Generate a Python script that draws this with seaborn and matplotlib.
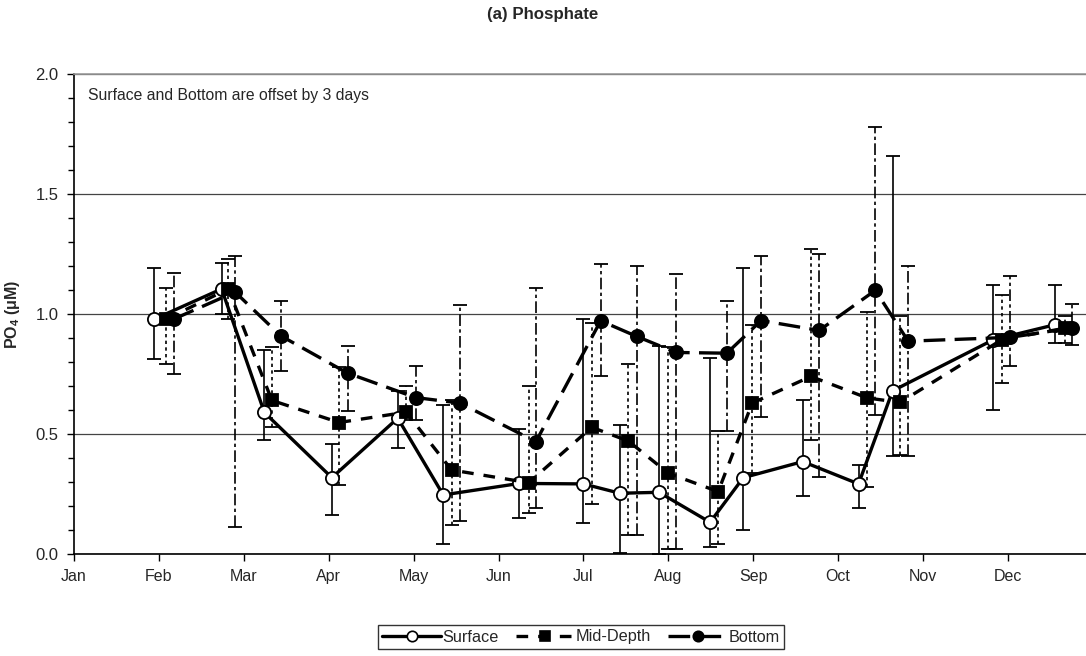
import numpy as np
import pandas as pd
import matplotlib
matplotlib.use("Agg")
import matplotlib.pyplot as plt
import seaborn as sns
from matplotlib.lines import Line2D

# ---------------- data ----------------
months = ["Jan", "Feb", "Mar", "Apr", "May", "Jun", "Jul", "Aug", "Sep", "Oct", "Nov", "Dec"]

# Surface (day of year, value, error-bar top, error-bar bottom)
surf_day = [28.8, 52.9, 68.2, 92.4, 116.0, 132.3, 159.6, 182.5, 195.6, 209.6, 227.9, 239.8, 261.1, 281.1, 293.3, 329.4, 351.6]
surf_val = [0.978, 1.104, 0.589, 0.317, 0.565, 0.245, 0.293, 0.291, 0.252, 0.256, 0.131, 0.317, 0.384, 0.291, 0.679, 0.892, 0.955]
surf_hi = [1.19, 1.21, 0.848, 0.458, 0.68, 0.618, 0.519, 0.98, 0.537, 0.867, 0.818, 1.191, 0.639, 0.37, 1.66, 1.119, 1.119]
surf_lo = [0.81, 1.00, 0.472, 0.16, 0.44, 0.04, 0.148, 0.13, 0.004, 0.0, 0.03, 0.10, 0.24, 0.19, 0.408, 0.60, 0.878]

# Mid-Depth
mid_day = [33.0, 55.3, 70.9, 95.0, 119.0, 135.3, 162.9, 185.5, 198.6, 213.0, 230.8, 243.0, 264.0, 284.3, 296.0, 332.4, 355.0]
mid_val = [0.978, 1.104, 0.639, 0.547, 0.59, 0.349, 0.296, 0.527, 0.47, 0.335, 0.259, 0.628, 0.739, 0.649, 0.631, 0.892, 0.94]
mid_hi = [1.108, 1.23, 0.861, 0.78, 0.70, 0.64, 0.70, 0.96, 0.792, 0.86, 0.513, 0.955, 1.272, 1.007, 0.99, 1.08, 0.99]
mid_lo = [0.79, 0.98, 0.53, 0.287, 0.558, 0.12, 0.17, 0.207, 0.078, 0.018, 0.04, 0.335, 0.475, 0.28, 0.41, 0.711, 0.878]

# Bottom
bot_day = [35.7, 57.7, 74.0, 98.0, 122.4, 138.3, 165.5, 188.7, 201.6, 215.7, 233.9, 246.2, 267.0, 287.1, 298.9, 335.4, 357.5]
bot_val = [0.978, 1.091, 0.909, 0.753, 0.651, 0.628, 0.467, 0.971, 0.906, 0.839, 0.836, 0.972, 0.931, 1.098, 0.886, 0.902, 0.941]
bot_hi = [1.17, 1.243, 1.055, 0.868, 0.784, 1.038, 1.108, 1.209, 1.198, 1.168, 1.052, 1.24, 1.25, 1.78, 1.198, 1.159, 1.04]
bot_lo = [0.749, 0.11, 0.76, 0.593, 0.558, 0.138, 0.192, 0.739, 0.08, 0.018, 0.51, 0.569, 0.32, 0.579, 0.408, 0.784, 0.872]

# ---------------- styling ----------------
sns.set_theme(style="ticks")
plt.rcParams["font.family"] = ["Liberation Sans", "DejaVu Sans"]
plt.rcParams["mathtext.fontset"] = "custom"
plt.rcParams["mathtext.rm"] = "Liberation Sans"
plt.rcParams["mathtext.bf"] = "Liberation Sans:bold"

fig = plt.figure(figsize=(10.86, 6.56), dpi=100)
ax = fig.add_axes([74 / 1086, 102.3 / 656, 1 - 74 / 1086, (553.7 - 74) / 656])

month_len = 30.42
xmax = (1086 - 74) / 2.791

series = [
    ("Surface", surf_day, surf_val, surf_hi, surf_lo, "o", "white", (None, None), "-", 1),
    ("Mid-Depth", mid_day, mid_val, mid_hi, mid_lo, "s", "black", (3.5, 3.0), (0, (2, 2)), 2),
    ("Bottom", bot_day, bot_val, bot_hi, bot_lo, "o", "black", (6.5, 2.8), (0, (7, 2, 2, 2)), 3),
]

handles = []
for name, d, v, hi, lo, mk, fc, dash, ebls, z in series:
    d = np.array(d); v = np.array(v); hi = np.array(hi); lo = np.array(lo)
    eb = ax.errorbar(d, v, yerr=[v - lo, hi - v], fmt="none", ecolor="black",
                     elinewidth=1.2, capsize=5, capthick=1.3, zorder=z)
    eb[2][0].set_linestyle(ebls)
    df = pd.DataFrame({"day": d, "val": v})
    sns.lineplot(data=df, x="day", y="val", ax=ax, color="black", lw=2.4,
                 marker=mk, markersize=9.5 if mk == "o" else 9, markerfacecolor=fc,
                 markeredgecolor="black", markeredgewidth=1.3, zorder=z + 3,
                 sort=False, estimator=None)
    line = ax.lines[-1]
    if dash[0] is not None:
        line.set_dashes(dash)
    h = Line2D([], [], color="black", lw=2.4, marker=mk, markersize=7.5,
               markerfacecolor=fc, markeredgecolor="black", markeredgewidth=1.2)
    if dash[0] is not None:
        h.set_dashes(dash)
    handles.append(h)

ax.set_xlim(0, xmax)
ax.set_ylim(0, 2.0)
ax.set_xticks([i * month_len for i in range(12)])
ax.set_xticklabels(months, fontsize=11.5)
ax.set_yticks([0, 0.5, 1.0, 1.5, 2.0])
ax.set_yticklabels(["0.0", "0.5", "1.0", "1.5", "2.0"], fontsize=12)
ax.set_yticks(np.arange(0, 2.01, 0.1), minor=True)
ax.tick_params(axis="both", which="major", direction="out", length=5, width=1.0, color="black", pad=6)
ax.tick_params(axis="y", which="minor", direction="out", length=4, width=1.0, color="black")
ax.yaxis.grid(True, which="major", color="#444444", lw=0.9)
ax.xaxis.grid(False)
ax.set_axisbelow(True)
for s in ["left", "bottom"]:
    ax.spines[s].set_color("black")
    ax.spines[s].set_linewidth(1.2)
ax.spines["top"].set_color("#999999")
ax.spines["top"].set_linewidth(1.2)
ax.spines["right"].set_visible(False)

ax.set_xlabel("")
ax.set_ylabel(r"PO$_\mathbf{4}$ ($\mathbf{\mu}$M)", fontsize=11.5, fontweight="bold", labelpad=10)
ax.text(14.3 / (1086 - 74), 0.955, "Surface and Bottom are offset by 3 days",
        transform=ax.transAxes, fontsize=11.3, ha="left", va="center")

fig.text(0.5, 1 - 15 / 656, "(a) Phosphate", fontsize=12.2, fontweight="bold", ha="center", va="center")

leg = fig.legend(handles, ["Surface", "Mid-Depth", "Bottom"], loc="center",
                 bbox_to_anchor=(581 / 1086, 1 - 637 / 656), ncol=3, fontsize=11.7,
                 frameon=True, fancybox=False, shadow=False, handlelength=3.6,
                 handletextpad=0.1, columnspacing=1.05, borderpad=0.25, borderaxespad=0)
leg.get_frame().set_edgecolor("black")
leg.get_frame().set_linewidth(1.0)

fig.savefig("out.png", dpi=100)
